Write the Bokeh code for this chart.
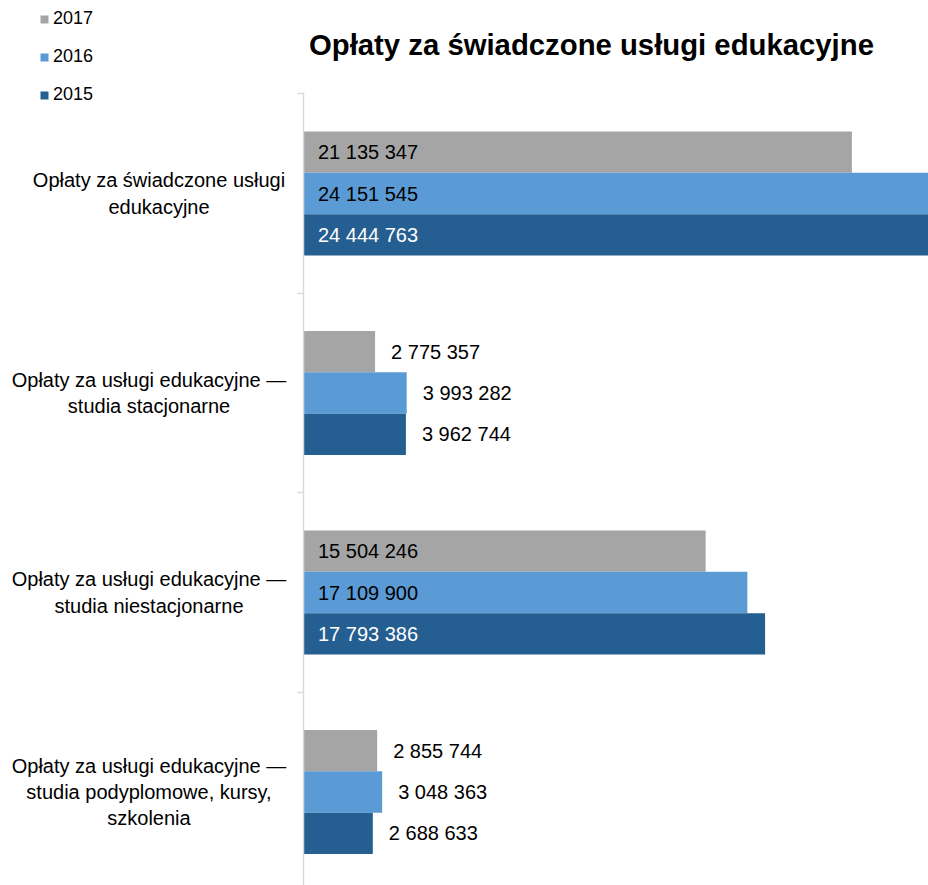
from bokeh.plotting import figure
from bokeh.models import Range1d, FixedTicker, LinearAxis, Label, Legend, LegendItem, ColumnDataSource
from bokeh.core.properties import value
from bokeh.embed import file_html
from bokeh.resources import INLINE

categories = [
    "Opłaty za świadczone usługi\nedukacyjne",
    "Opłaty za usługi edukacyjne —\nstudia stacjonarne",
    "Opłaty za usługi edukacyjne —\nstudia niestacjonarne",
    "Opłaty za usługi edukacyjne —\nstudia podyplomowe, kursy,\nszkolenia",
]
years = ["2017", "2016", "2015"]
v2017 = [21135347, 2775357, 15504246, 2855744]
v2016 = [24151545, 3993282, 17109900, 3048363]
v2015 = [24444763, 3962744, 17793386, 2688633]
series = [v2017, v2016, v2015]
colors = ["#A5A5A5", "#5B9BD5", "#255E91"]
inside_text_colors = ["#000000", "#000000", "#FFFFFF"]
title_text = "Opłaty za świadczone usługi edukacyjne"

FONT = "Liberation Sans"
W, H = 928, 885

# layout geometry (pixels)
AXIS_PX = 302.5          # x pixel of value 0
PX_PER_UNIT_X = 25.97e-6 # pixels per unit of value
CAT0_PX = 193.0          # y pixel of first category centre
BAND_PX = 199.5          # pixels per category
bh = 41.3 / BAND_PX      # bar height in category units

def ypx(py):
    return (py - CAT0_PX) / BAND_PX

x_start = -AXIS_PX / PX_PER_UNIT_X
x_end = (W - AXIS_PX) / PX_PER_UNIT_X

p = figure(width=W, height=H, output_backend="svg", toolbar_location=None,
           x_range=Range1d(x_start, x_end), y_range=Range1d(ypx(H), ypx(0)),
           x_axis_location=None, y_axis_location=None,
           min_border=0)
p.outline_line_color = None
p.grid.visible = False
p.background_fill_color = "white"

ticks = [i - 0.5 for i in range(len(categories) + 1)]
yax = LinearAxis(ticker=FixedTicker(ticks=ticks, minor_ticks=[]),
                 fixed_location=0, bounds=(ypx(92), ypx(H)))
yax.axis_line_color = "#D9D9D9"
yax.axis_line_width = 1.5
yax.major_tick_line_color = "#D9D9D9"
yax.major_tick_line_width = 1.5
yax.major_tick_out = 6
yax.major_tick_in = 0
yax.minor_tick_line_color = None
yax.major_label_overrides = {t: "" for t in ticks}
p.add_layout(yax, "left")

items = []
for j, (yr, vals, col, tcol) in enumerate(zip(years, series, colors, inside_text_colors)):
    ys = [i + (j - 1) * bh for i in range(len(categories))]
    src = ColumnDataSource(dict(y=ys, right=vals))
    r = p.hbar(y="y", left=0, right="right", height=bh, source=src,
               fill_color=col, line_color=None)
    items.append(LegendItem(label=yr, renderers=[r]))
    inside = [v > 10e6 for v in vals]
    lab = dict(
        x=[0 if ins else v for ins, v in zip(inside, vals)],
        y=ys,
        text=[f"{v:,}".replace(",", " ") for v in vals],
        off=[15 if ins else 16 for ins in inside],
        color=[tcol if ins else "#000000" for ins in inside],
    )
    p.text(x="x", y="y", text="text", x_offset="off", text_color="color",
           source=ColumnDataSource(lab), text_align="left", text_baseline="middle",
           text_font=value(FONT), text_font_size="20px")

# category labels (left of axis)
for i, c in enumerate(categories):
    off = -144 if i == 0 else -154
    p.add_layout(Label(x=0, y=i, x_offset=off, text=c, text_align="center",
                       text_baseline="middle", text_font=FONT, text_font_size="20px",
                       text_color="#000000", text_line_height=1.2))

legend = Legend(items=items, location=(39, H - 11 - 94), orientation="vertical",
                glyph_width=10, glyph_height=10, label_height=20, spacing=17,
                padding=0, margin=0, border_line_color=None, background_fill_alpha=0,
                label_text_font=FONT, label_text_font_size="18px", label_standoff=4,
                label_text_color="#000000")
p.add_layout(legend)

p.add_layout(Label(x=0, y=ypx(44), x_offset=6, text=title_text, text_align="left",
                   text_baseline="middle", text_font=FONT, text_font_size="29.3px",
                   text_font_style="bold", text_color="#000000"))

open("out.html", "w").write(file_html(p, INLINE))
